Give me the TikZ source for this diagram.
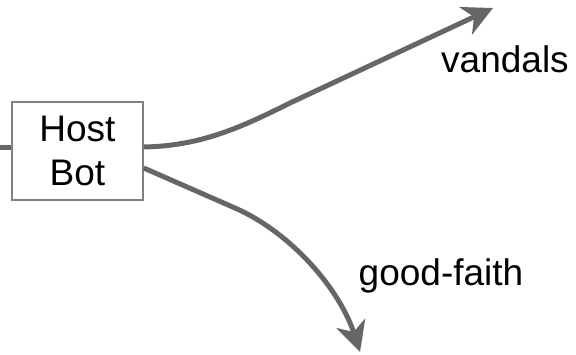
\documentclass[tikz,border=0pt]{standalone}
\usepackage{fontspec}
\setmainfont{Liberation Sans}
\usetikzlibrary{arrows.meta}
\definecolor{mygray}{RGB}{102,102,102}
\definecolor{boxgray}{RGB}{128,128,128}

\begin{document}
\begin{tikzpicture}[x=1pt,y=-1pt,
  bigtext/.style={font=\fontsize{37}{44}\selectfont},
  flow/.style={mygray,line width=5pt},
  flowarrow/.style={flow,-{Stealth[length=30pt,width=30pt,inset=9pt]}}]
\useasboundingbox (0,0) rectangle (576,354);

\node[draw=boxgray,line width=1.5pt,fill=white,minimum width=131pt,minimum height=98pt,
  align=center,inner sep=0pt,bigtext] (hostbot) at (77.5,151) {Host\\Bot};
\coordinate (left) at (0,147);
\coordinate (vtip) at (493,8);
\coordinate (gtip) at (360,352);

\draw[flow] (left) -- (hostbot.west |- left);
% upper branch: short bend, then straight
\draw[flowarrow] (hostbot.east |- 0,147) .. controls (200,146) and (240,128) .. (290,103) -- (vtip);
% lower branch: straight, then bending down
\draw[flowarrow] (hostbot.east |- 0,168) -- (235,208) .. controls (292,233) and (340,290) .. (gtip);

\node[bigtext,anchor=base] (vandals) at (505,72) {vandals};
\node[bigtext,anchor=base] (goodfaith) at (441,285) {good-faith};
\end{tikzpicture}
\end{document}
